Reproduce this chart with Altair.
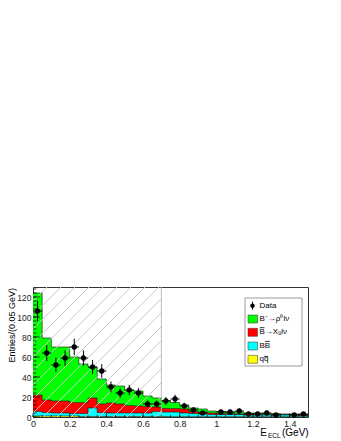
import altair as alt
import pandas as pd

FONT = "Liberation Sans"

# ---- data ----
bin_width = 0.05
n_bins = 30
# per-component heights (stack order: bottom -> top)
qq_vals = [1, 1, 1, 1, 1, 0.5, 0.5, 0.5, 0.5, 0.5, 0.5, 0.5, 0.5, 0.5, 0.5,
           0.3, 0.3, 0.3, 0.3, 0.3, 0.3, 0.3, 0.3, 0.3, 0.3, 0.3, 0.3, 0.3, 0.3, 0.3]
bb_vals = [4.5, 3.5, 3, 3, 2.5, 3, 8.5, 4, 3.5, 3.5, 3.5, 3.5, 3.5, 5, 4.5,
           4.7, 3.7, 3.2, 2.7, 2.2, 2.2, 2.2, 2.2, 1.7, 1.7, 1.7, 1.7, 1.7, 1.7, 1.2]
xu_vals = [16.5, 12.5, 12, 12, 11, 11, 10, 8.5, 10, 9, 7.5, 7, 6.5, 4.5, 3.5,
           3.5, 4, 2, 2, 1.5, 1, 1, 0.5, 1, 0.5, 0.5, 0.5, 0.5, 0.5, 0.5]
rho_vals = [102, 62, 54, 54, 45.5, 38.5, 31, 25, 18, 18, 15.5, 15, 10.5, 9, 8,
            6, 4, 3.5, 3, 2, 2, 1.5, 2, 1, 1.5, 1, 1, 0.5, 0.5, 0.5]

data_vals = [106, 64, 52, 59, 70, 59, 50, 46, 30, 24, 27, 24, 13, 13, 16,
             18, 11, 7, 4, None, 5, 5, 6, 3, 3, 4, 2, None, 2, 3]
data_errs = [10.3, 8, 7.2, 7.7, 8.4, 7.7, 7.1, 6.8, 5.5, 4.9, 5.2, 4.9, 3.6, 3.6, 4,
             4.2, 3.3, 2.6, 2, None, 2.2, 2.2, 2.4, 1.7, 1.7, 2, 1.4, None, 1.4, 1.7]

comp_names = ["qq", "BB", "Xu", "rho"]
comp_colors = ["#ffff00", "#00ffff", "#ff0000", "#00ff00"]
comp_series = [qq_vals, bb_vals, xu_vals, rho_vals]

x_ticks_major = [0, 0.2, 0.4, 0.6, 0.8, 1.0, 1.2, 1.4]
y_ticks_major = [0, 20, 40, 60, 80, 100, 120]
signal_region = [0.0, 0.7]

X_MAX = 1.5
Y_MAX = 130
W, H = 275, 130

# ---- build tables ----
edges = [round(i * bin_width, 4) for i in range(n_bins + 1)]
rows = []
for i in range(n_bins + 1):
    j = min(i, n_bins - 1)
    cum = 0.0
    for k, name in enumerate(comp_names):
        v = comp_series[k][j]
        rows.append({"x": edges[i], "lo": cum, "hi": cum + v, "comp": name, "o": k})
        cum += v
hist = pd.DataFrame(rows)

pts = pd.DataFrame({
    "x": [edges[i] + bin_width / 2 for i in range(n_bins)],
    "xl": [edges[i] for i in range(n_bins)],
    "xh": [edges[i + 1] for i in range(n_bins)],
    "y": data_vals,
    "e": data_errs,
}).dropna()
pts["yl"] = pts["y"] - pts["e"]
pts["yh"] = pts["y"] + pts["e"]

# hatch lines in the signal region (decoration), built in pixel space
sx = W / X_MAX
sy = H / Y_MAX
xr = signal_region[1] * sx
hatch = []
c = -H
while c < xr:
    xs0 = max(0.0, c)
    xs1 = min(xr, H + c)
    if xs1 > xs0:
        hatch.append({"x": xs0 / sx, "y": (xs0 - c) / sy,
                      "x2": xs1 / sx, "y2": (xs1 - c) / sy})
    c += 14
hatch = pd.DataFrame(hatch)

xscale = alt.Scale(domain=[0, X_MAX], nice=False, zero=False)
yscale = alt.Scale(domain=[0, Y_MAX], nice=False)

x_axis = alt.Axis(values=x_ticks_major, format="~g", ticks=False, tickSize=0, domain=False,
                  grid=False, labelFont=FONT, labelFontSize=9, labelColor="#222",
                  labelPadding=2, labelOverlap=False, labelFlush=False, title=None)
y_axis = alt.Axis(values=y_ticks_major, format="d", ticks=False, tickSize=0, domain=False,
                  grid=False, labelFont=FONT, labelFontSize=8.5, labelColor="#222",
                  labelPadding=2, labelOverlap=False, labelFlush=False, title=None)


def X(field):
    return alt.X(field, scale=xscale, axis=x_axis)


def Y(field):
    return alt.Y(field, scale=yscale, axis=y_axis)


base = alt.Chart(hist)
areas = base.mark_area(interpolate="step-after").encode(
    x=X("x:Q"), y=Y("lo:Q"), y2="hi:Q",
    color=alt.Color("comp:N", scale=alt.Scale(domain=comp_names, range=comp_colors), legend=None),
    detail="comp:N",
)
outlines = base.mark_line(interpolate="step-after", color="#111", strokeWidth=0.6).encode(
    x=X("x:Q"), y=Y("hi:Q"), detail="comp:N",
)

hatch_layer = alt.Chart(hatch).mark_rule(color="#c8c8c8", strokeWidth=1).encode(
    x=X("x:Q"), y=Y("y:Q"), x2="x2:Q", y2="y2:Q",
)
region_edge = alt.Chart(pd.DataFrame({"x": [signal_region[1]]})).mark_rule(
    color="#bbbbbb", strokeWidth=1).encode(
    x=X("x:Q"), y=alt.value(0), y2=alt.value(H))

vbars = alt.Chart(pts).mark_rule(color="black", strokeWidth=1).encode(
    x=X("x:Q"), y=Y("yl:Q"), y2="yh:Q")
hbars = alt.Chart(pts).mark_rule(color="black", strokeWidth=1).encode(
    x=X("xl:Q"), x2="xh:Q", y=Y("y:Q"))
dots = alt.Chart(pts).mark_circle(color="black", opacity=1, size=28).encode(
    x=X("x:Q"), y=Y("y:Q"))

# inward ticks
y_minor = [v for v in range(0, Y_MAX + 1, 4)]
x_minor = [round(i * 0.05, 2) for i in range(int(X_MAX / 0.05) + 1)]
ytm = alt.Chart(pd.DataFrame({"v": y_ticks_major})).mark_tick(color="black", thickness=1, size=7).encode(
    y=Y("v:Q"), x=alt.value(3.5))
ytn = alt.Chart(pd.DataFrame({"v": y_minor})).mark_tick(color="black", thickness=1, size=3.5).encode(
    y=Y("v:Q"), x=alt.value(1.75))
xtm = alt.Chart(pd.DataFrame({"v": x_ticks_major})).mark_tick(color="black", thickness=1, size=4).encode(
    x=X("v:Q"), y=alt.value(H - 2))
xtn = alt.Chart(pd.DataFrame({"v": x_minor})).mark_tick(color="black", thickness=1, size=2).encode(
    x=X("v:Q"), y=alt.value(H - 1))

one = pd.DataFrame({"a": [0]})


def txt(s, x, y, size=8, align="left", baseline="middle", **kw):
    return alt.Chart(one).mark_text(text=s, font=FONT, fontSize=size, align=align,
                                    baseline=baseline, color="black", **kw).encode(
        x=alt.value(x), y=alt.value(y))


def bar_over(x0, x1, y):
    return alt.Chart(one).mark_rule(color="black", strokeWidth=0.8).encode(
        x=alt.value(x0), x2=alt.value(x1), y=alt.value(y))


# axis titles
ytitle = txt("Entries/(0.05 GeV)", -25, 1, size=9, align="right", baseline="top", angle=270)
xt1 = txt("E", 234, 149, size=10, align="right", baseline="alphabetic")
xt2 = txt("ECL", 235, 151, size=6.5, align="left", baseline="alphabetic")
xt3 = txt("(GeV)", 249, 149, size=10, align="left", baseline="alphabetic")

# legend
LX = 212
leg_box = alt.Chart(one).mark_rect(fill="white", stroke="#999999", strokeWidth=1).encode(
    x=alt.value(LX), x2=alt.value(LX + 57), y=alt.value(11), y2=alt.value(79))
leg_labels = ["Data", "B\u207b\u2192\u03c1\u2070l\u03bd", "B\u2192X\u1d64l\u03bd", "BB", "qq"]
leg_y = [18.7, 32, 45.3, 59, 72.3]
leg_fill = [None, "#00ff00", "#ff0000", "#00ffff", "#ffff00"]
TX = LX + 14.5
legend_layers = [leg_box]
for lab, yy, fc in zip(leg_labels, leg_y, leg_fill):
    if fc is None:
        legend_layers.append(alt.Chart(one).mark_rule(color="black", strokeWidth=1).encode(
            x=alt.value(LX + 7.5), y=alt.value(yy - 4), y2=alt.value(yy + 4)))
        legend_layers.append(alt.Chart(one).mark_circle(color="black", opacity=1, size=20).encode(
            x=alt.value(LX + 7.5), y=alt.value(yy)))
    else:
        legend_layers.append(alt.Chart(one).mark_rect(fill=fc, stroke="#333", strokeWidth=0.5).encode(
            x=alt.value(LX + 3), x2=alt.value(LX + 12.5), y=alt.value(yy - 4), y2=alt.value(yy + 4)))
    legend_layers.append(txt(lab, TX, yy, size=8))
# overlines for anti-particles
legend_layers.append(bar_over(TX + 0.3, TX + 5.0, leg_y[2] - 4.6))
legend_layers.append(bar_over(TX + 5.6, TX + 10.3, leg_y[3] - 4.6))
legend_layers.append(bar_over(TX + 4.6, TX + 8.6, leg_y[4] - 2.9))

chart = alt.layer(
    areas, outlines, hatch_layer, region_edge, vbars, hbars, dots,
    ytm, ytn, xtm, xtn, ytitle, xt1, xt2, xt3, *legend_layers
).properties(
    width=W, height=H,
    autosize=alt.AutoSizeParams(type="none"),
    padding={"left": 25, "top": 279, "right": 25, "bottom": 22},
).configure_view(stroke="#333333", strokeWidth=1).configure_axis(labelOverlap=False)

chart.save("out.html", embed_options={"renderer": "svg", "actions": False})
